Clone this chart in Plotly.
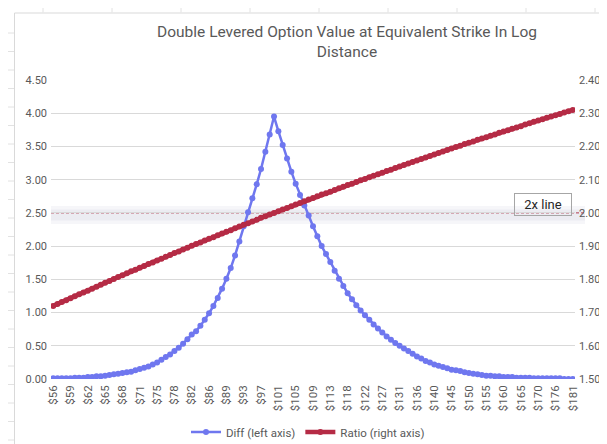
import plotly.graph_objects as go

# ---------------- data ----------------
strikes = [55.7, 56.4, 57.1, 57.9, 58.7, 59.4, 60.2, 61.0, 61.8, 62.5,
           63.3, 64.1, 64.9, 65.7, 66.5, 67.4, 68.2, 69.0, 69.8, 70.7,
           71.5, 72.3, 73.2, 74.1, 74.9, 75.8, 76.6, 77.5, 78.4, 79.3,
           80.2, 81.1, 82.0, 82.9, 83.8, 84.7, 85.6, 86.5, 87.5, 88.4,
           89.3, 90.3, 91.2, 92.2, 93.1, 94.1, 95.1, 96.1, 97.0, 98.0,
           99.0, 100.0, 101.0, 102.0, 103.0, 104.0, 105.0, 106.1, 107.1, 108.1,
           109.2, 110.2, 111.3, 112.3, 113.4, 114.4, 115.5, 116.6, 117.6, 118.7,
           119.8, 120.9, 122.0, 123.1, 124.2, 125.3, 126.4, 127.6, 128.7, 129.8,
           131.0, 132.1, 133.3, 134.4, 135.6, 136.7, 137.9, 139.1, 140.2, 141.4,
           142.6, 143.8, 145.0, 146.2, 147.4, 148.6, 149.8, 151.1, 152.3, 153.5,
           154.8, 156.0, 157.2, 158.5, 159.8, 161.0, 162.3, 163.5, 164.8, 166.1,
           167.4, 168.7, 170.0, 171.3, 172.6, 173.9, 175.2, 176.5, 177.9, 179.2,
           180.5]

tick_labels = ["$56", "$59", "$62", "$65", "$68", "$71", "$75", "$78", "$82", "$86",
               "$89", "$93", "$97", "$101", "$105", "$109", "$113", "$118", "$122", "$127",
               "$131", "$136", "$140", "$145", "$150", "$155", "$160", "$165", "$170", "$176",
               "$181"]

diff = [0.01, 0.01, 0.01, 0.01, 0.01, 0.02, 0.02, 0.02, 0.03, 0.03,
        0.04, 0.04, 0.05, 0.06, 0.07, 0.08, 0.09, 0.10, 0.11, 0.13,
        0.15, 0.17, 0.19, 0.22, 0.25, 0.29, 0.33, 0.37, 0.42, 0.47,
        0.53, 0.60, 0.67, 0.72, 0.80, 0.89, 0.99, 1.10, 1.22, 1.36,
        1.51, 1.67, 1.86, 2.07, 2.30, 2.51, 2.72, 2.93, 3.16, 3.42,
        3.68, 3.95, 3.73, 3.52, 3.32, 3.12, 2.94, 2.77, 2.61, 2.46,
        2.30, 2.15, 2.00, 1.88, 1.76, 1.63, 1.51, 1.40, 1.29, 1.20,
        1.11, 1.03, 0.96, 0.89, 0.82, 0.76, 0.70, 0.64, 0.59, 0.54,
        0.50, 0.46, 0.42, 0.38, 0.34, 0.31, 0.27, 0.25, 0.22, 0.20,
        0.18, 0.16, 0.14, 0.13, 0.12, 0.10, 0.09, 0.08, 0.07, 0.06,
        0.05, 0.05, 0.04, 0.04, 0.03, 0.03, 0.03, 0.02, 0.02, 0.02,
        0.02, 0.01, 0.01, 0.01, 0.01, 0.01, 0.01, 0.01, 0.00, 0.00,
        0.00]

ratio = [1.720, 1.726, 1.732, 1.737, 1.743, 1.749, 1.755, 1.760, 1.766, 1.772,
         1.778, 1.784, 1.790, 1.795, 1.801, 1.807, 1.812, 1.818, 1.824, 1.829,
         1.835, 1.840, 1.846, 1.851, 1.857, 1.862, 1.868, 1.873, 1.879, 1.884,
         1.890, 1.895, 1.901, 1.906, 1.911, 1.917, 1.922, 1.927, 1.933, 1.938,
         1.943, 1.948, 1.954, 1.959, 1.964, 1.969, 1.974, 1.979, 1.985, 1.990,
         1.995, 2.000, 2.005, 2.010, 2.015, 2.020, 2.025, 2.030, 2.035, 2.040,
         2.045, 2.050, 2.055, 2.059, 2.064, 2.069, 2.074, 2.079, 2.084, 2.088,
         2.093, 2.098, 2.102, 2.107, 2.112, 2.116, 2.121, 2.126, 2.130, 2.135,
         2.140, 2.144, 2.149, 2.153, 2.158, 2.162, 2.167, 2.171, 2.176, 2.180,
         2.185, 2.189, 2.194, 2.198, 2.202, 2.207, 2.211, 2.215, 2.220, 2.224,
         2.228, 2.232, 2.236, 2.241, 2.245, 2.249, 2.253, 2.257, 2.261, 2.266,
         2.270, 2.274, 2.278, 2.282, 2.286, 2.290, 2.294, 2.298, 2.302, 2.306,
         2.310]

ref_line_value = 2.0
title_text = "Double Levered Option Value at Equivalent Strike In Log<br>Distance"

# ---------------- layout helpers ----------------
W, H = 607, 444
L, R, T, B = 43, 567, 72, 371


def px(x):
    return (x - L) / (R - L)


def py(y):
    return (B - y) / (B - T)


BLUE = "#6F77EF"
RED = "#B52B45"
GREY_TXT = "#595959"
FONT = "Roboto"

cats = [f"${k:.1f}" for k in strikes]

fig = go.Figure()
fig.add_trace(go.Scatter(
    x=cats, y=diff, name="Diff (left axis)", mode="lines+markers",
    line=dict(color=BLUE, width=2.5), marker=dict(size=6, color=BLUE)))
fig.add_trace(go.Scatter(
    x=cats, y=ratio, name="Ratio (right axis)", yaxis="y2", mode="lines+markers",
    line=dict(color=RED, width=4.5), marker=dict(size=6, color=RED)))

shapes = []
# chart border
shapes.append(dict(type="rect", xref="paper", yref="paper",
                   x0=px(6.5), x1=px(640), y0=py(442), y1=py(5),
                   line=dict(color="#d9d9d9", width=1), layer="below"))
# spreadsheet cell lines outside chart
for xc in [35, 104, 173, 242, 311, 380, 449, 518, 587]:
    shapes.append(dict(type="line", xref="paper", yref="paper",
                       x0=px(xc), x1=px(xc), y0=py(0), y1=py(4.5),
                       line=dict(color="#e2e2e2", width=1)))
    shapes.append(dict(type="line", xref="paper", yref="paper",
                       x0=px(xc), x1=px(xc), y0=py(442.5), y1=py(444),
                       line=dict(color="#e2e2e2", width=1)))
for yc in [25, 43.5, 62, 80.5, 99, 117.5, 136, 154.5, 173, 191.5, 210, 228.5,
           247, 265.5, 284, 302.5, 321, 339.5, 358, 376.5, 395, 413.5, 432]:
    shapes.append(dict(type="line", xref="paper", yref="paper",
                       x0=px(0), x1=px(6), y0=py(yc), y1=py(yc),
                       line=dict(color="#e2e2e2", width=1)))
# soft glow band around the 2x line
shapes.append(dict(type="rect", xref="paper", yref="paper",
                   x0=px(43), x1=px(577), y0=py(216), y1=py(198),
                   line=dict(width=0), fillcolor="rgba(225,225,236,0.30)", layer="between"))
shapes.append(dict(type="rect", xref="paper", yref="paper",
                   x0=px(43), x1=px(577), y0=py(212.5), y1=py(201.5),
                   line=dict(width=0), fillcolor="rgba(218,218,230,0.35)", layer="between"))
# 2x dashed line on the right axis
shapes.append(dict(type="line", xref="paper", yref="y2",
                   x0=px(43), x1=px(576), y0=ref_line_value, y1=ref_line_value,
                   line=dict(color="#B0384F", width=1, dash="3px,2px"), layer="between"))

fig.update_layout(
    width=W, height=H,
    margin=dict(l=L, r=W - R, t=T, b=H - B, autoexpand=False),
    paper_bgcolor="white", plot_bgcolor="white",
    font=dict(family=FONT, color=GREY_TXT, size=11),
    title=dict(text=title_text, x=339 / W, xanchor="center", xref="container",
               y=1 - 29 / H, yanchor="middle", yref="container",
               font=dict(family=FONT, size=15.5, color=GREY_TXT)),
    showlegend=True,
    legend=dict(orientation="h", x=px(300), xanchor="center", y=py(424), yanchor="middle",
                font=dict(family=FONT, size=11.5, color=GREY_TXT),
                bgcolor="rgba(0,0,0,0)", itemwidth=30),
    xaxis=dict(type="category", range=[-0.5, 120.5], tickmode="array",
               tickvals=cats[::4], ticktext=tick_labels, tickangle=-90,
               showgrid=False, zeroline=False, showline=False, ticks="",
               tickfont=dict(family=FONT, size=11.5, color=GREY_TXT),
               ticklabelstandoff=3),
    yaxis=dict(range=[0, 4.5], dtick=0.5, tick0=0, tickformat=".2f",
               gridcolor="#d9d9d9", gridwidth=1, zeroline=False, showline=False,
               ticks="", tickfont=dict(family=FONT, size=11, color=GREY_TXT),
               ticklabelstandoff=3),
    yaxis2=dict(overlaying="y", side="right", range=[1.5, 2.4], dtick=0.1, tick0=1.5,
                tickformat=".2f", showgrid=False, zeroline=False, showline=False,
                ticks="", tickfont=dict(family=FONT, size=11, color=GREY_TXT),
                ticklabelstandoff=3),
    shapes=shapes,
    annotations=[dict(text="2x line", xref="paper", yref="paper",
                      x=px(535), y=py(208), xanchor="center", yanchor="bottom",
                      width=54, height=19, align="center", valign="middle",
                      showarrow=False, font=dict(family=FONT, size=13, color="#262626"),
                      bordercolor="#a6a6a6", borderwidth=1, borderpad=1,
                      bgcolor="rgba(255,255,255,0)")],
)

fig.write_html("out.html")
